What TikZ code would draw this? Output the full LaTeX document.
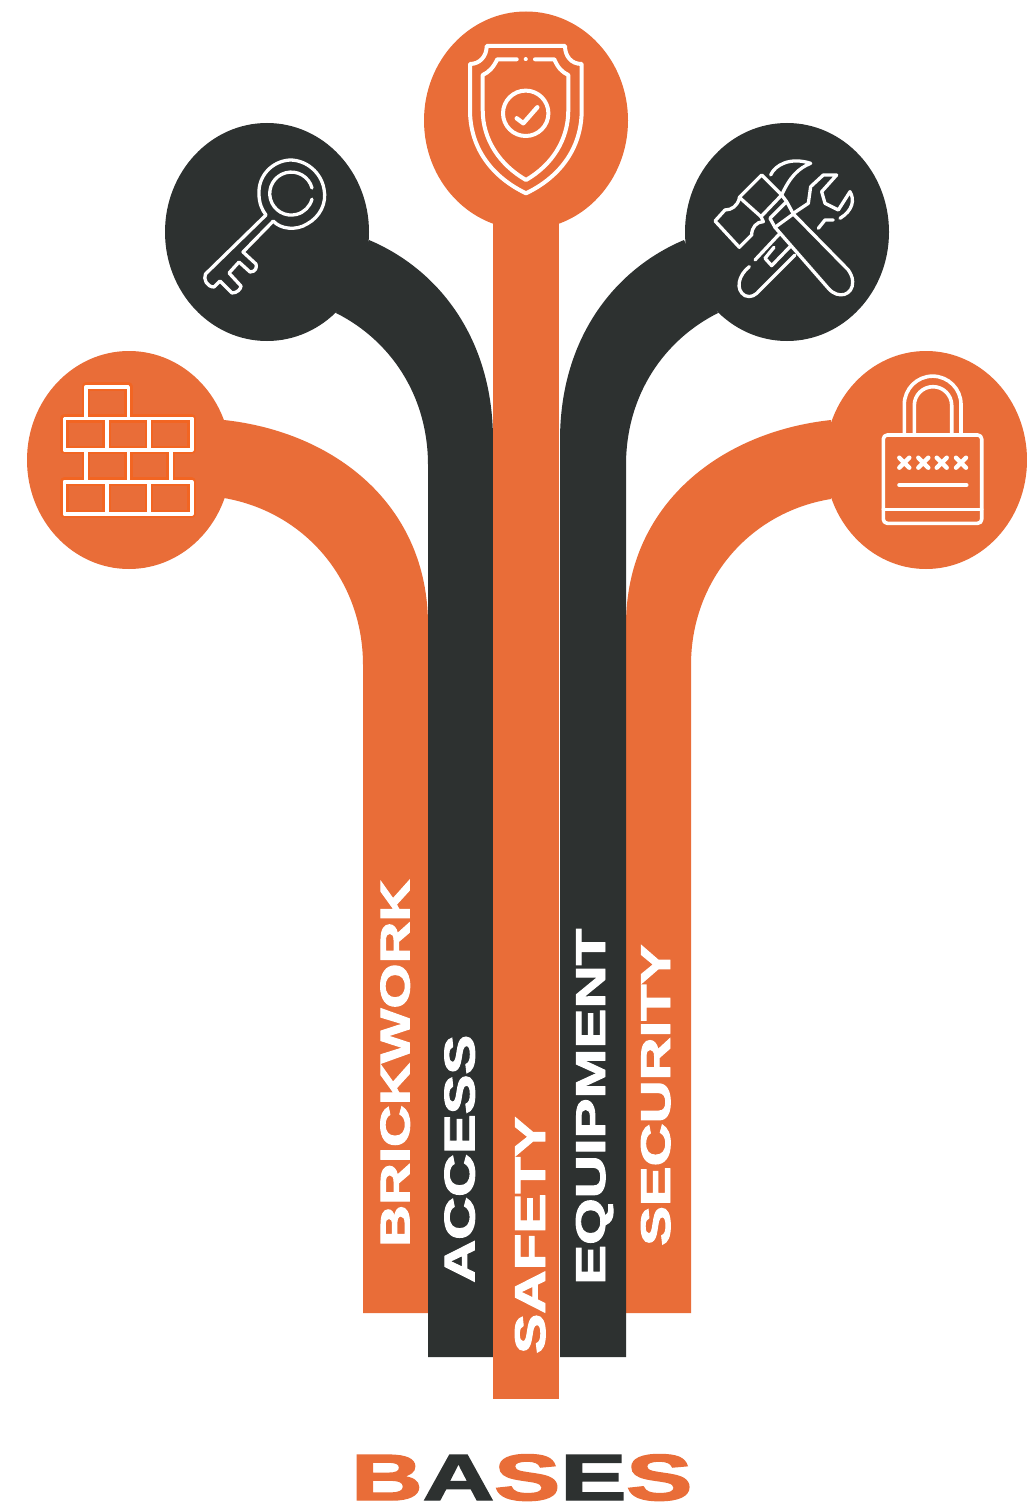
\documentclass[tikz,border=0pt]{standalone}
\usepackage{graphicx}
\usepackage{fontspec}
\setmainfont{Liberation Sans}[BoldFeatures={FakeBold=2.2}]
\usetikzlibrary{shapes.geometric}
\definecolor{brandorange}{HTML}{E96D38}
\definecolor{branddark}{HTML}{2D3130}
\definecolor{brickglow}{HTML}{F26522}
\newcommand{\fitlabel}[3]{\resizebox{#1pt}{#2pt}{\bfseries #3}}
\tikzset{
  disc/.style={ellipse,inner sep=0pt,minimum width=204pt,minimum height=218pt,draw=none},
  orangefill/.style={fill=brandorange,draw=none},
  darkfill/.style={fill=branddark,draw=none},
  icon/.style={draw=white,line width=3.3pt,line join=round,line cap=round,fill=none},
  stemlabel/.style={rotate=90,anchor=base west,inner sep=0pt,text=white},
}
\begin{document}
\begin{tikzpicture}[x=1pt,y=-1pt]
\useasboundingbox[fill=white] (0,0) rectangle (1027,1506);
% stems
\fill[orangefill] (224,420) .. controls (335,432) and (428,505) .. (428,625) -- (428,1313) -- (363,1313) -- (363,665) .. controls (363,580) and (305,512) .. (224,498) -- cycle;
\fill[orangefill] (831,420) .. controls (720,432) and (626,505) .. (626,625) -- (626,1313) -- (691,1313) -- (691,665) .. controls (691,580) and (750,512) .. (831,499) -- cycle;
\fill[darkfill] (369,240) .. controls (440,270) and (493,340) .. (493,440) -- (493,1357) -- (428,1357) -- (428,465) .. controls (428,395) and (390,340) .. (336,313) -- cycle;
\fill[darkfill] (684,240) .. controls (613,270) and (560,340) .. (560,440) -- (560,1357) -- (626,1357) -- (626,465) .. controls (626,395) and (664,340) .. (718,313) -- cycle;
\fill[orangefill] (493,215) rectangle (559,1399);
% discs
\node[disc,orangefill] (shielddisc) at (526,120.5) {};
\node[disc,darkfill] (keydisc) at (267,232) {};
\node[disc,darkfill] (tooldisc) at (787,232) {};
\node[disc,orangefill] (brickdisc) at (129,460) {};
\node[disc,orangefill,minimum width=202pt] (lockdisc) at (926,460) {};
% shield icon
\begin{scope}[icon,line width=4pt]
\draw (486.7,46) -- (565,46) .. controls (565,56) and (571,64) .. (581.7,64) -- (581.7,110) .. controls (581.7,150) and (558,178) .. (526,193.3) .. controls (494,178) and (470,150) .. (470,110) -- (470,64) .. controls (480,64) and (486.7,56) .. cycle;
\draw (516.7,59.3) -- (497.3,59.3) .. controls (493,68) and (489,72) .. (482.7,75) -- (482.7,110) .. controls (482.7,140) and (500,165) .. (526,180) .. controls (552,165) and (568.3,140) .. (568.3,110) -- (568.3,75) .. controls (562,72) and (558,68) .. (554.3,59.3) -- (535,59.3);
\draw (525.7,59.3) -- (525.8,59.3);
\draw (525.7,113.3) circle[radius=22.7];
\draw[line width=4.4pt] (516.7,118.3) -- (523.3,123.3) -- (537.3,107.3);
\end{scope}
% key icon
\begin{scope}[icon]
\draw (273.3,221) .. controls (280,229) and (296,231) .. (307,224) .. controls (320,217) and (327,203) .. (324,189) .. controls (321,172) and (306,160) .. (290,160) .. controls (272,161) and (258,176) .. (259,194) .. controls (259,203) and (262,210) .. (266,215)
 -- (205.5,274) .. controls (203,279) and (207,287) .. (214,287) -- (220,281) -- (232,293) .. controls (237,293) and (241,289) .. (241,286) -- (229,273) -- (239,262) -- (250,272) .. controls (256,272) and (257,267) .. (256,264) -- (243,252) -- cycle;
\draw (312,188) arc[start angle=-15,end angle=-345,radius=21.5];
\end{scope}
% tools icon, traced at three times its size
\begin{scope}[icon,shift={(680,120)},x=0.3333pt,y=-0.3333pt]
% hammer head
\draw (245,165) -- (305,225) -- (243,290) -- (178,232) -- cycle;
\draw (178,235) .. controls (172,258) and (155,270) .. (135,270) -- (105,303) -- (178,382) -- (215,345) .. controls (215,322) and (230,305) .. (250,305) -- (243,290);
% claw
\draw (272,165) .. controls (285,135) and (330,110) .. (392,130) .. controls (355,145) and (330,170) .. (305,225);
% collar between head and handle
\draw (270,295) -- (320,245) -- (305,225);
% hammer handle
\draw (270,295) -- (285,322) -- (445,505) .. controls (475,540) and (520,525) .. (518,485) .. controls (518,470) and (510,458) .. (505,450) -- (340,282) -- (320,245);
\draw (285,322) -- (340,282);
% wrench
\draw (340,280) -- (385,250) -- (392,200) -- (430,165) -- (470,165) -- (425,215) -- (435,250) -- (475,270) -- (510,215) .. controls (525,240) and (518,272) .. (480,295);
\draw (415,325) -- (435,300) -- (460,300);
\draw (225,420) -- (300,340);
\draw (208,440) .. controls (175,465) and (165,510) .. (195,527) .. controls (212,535) and (228,525) .. (240,510) -- (345,405);
\draw (282,382) -- (255,415) -- (275,437) -- (330,380);
\end{scope}
% brick icon
\foreach \colr/\wid in {brickglow/8.5,white/3.6}{
\draw[draw=\colr,line width=\wid pt,line join=round,fill=none]
 (86,416.7) -- (86,386.7) -- (128.3,386.7) -- (128.3,416.7)
 (64.3,418.3) rectangle (191.7,450)
 (106.7,418.3) -- (106.7,450) (149,418.3) -- (149,450)
 (86,450) -- (86,481.7) (128.3,450) -- (128.3,481.7) (170.7,450) -- (170.7,481.7)
 (64.3,481.7) rectangle (191.7,514)
 (106.7,481.7) -- (106.7,514) (149,481.7) -- (149,514);
}
% lock icon
\begin{scope}[icon,line width=3.6pt]
\draw[rounded corners=4pt] (883.3,435) rectangle (981.7,523.3);
\draw (883.3,509.3) -- (981.7,509.3);
\draw (904.3,435) -- (904.3,404.5) arc[start angle=180,end angle=360,radius=28.35] -- (961,435);
\draw (914.3,435) -- (914.3,405.4) arc[start angle=180,end angle=360,radius=18.7] -- (951.7,435);
\foreach \xpos in {904.3,923.3,941.7,961}{
 \draw[line width=4.4pt] (\xpos-5,457.7) -- (\xpos+5,467.7) (\xpos-5,467.7) -- (\xpos+5,457.7);
}
\draw (899,485) -- (966.7,485);
\end{scope}
% labels
\node[stemlabel] (lblbrick) at (409.5,1247) {\fitlabel{367}{29}{BRICKWORK}};
\node[stemlabel] (lblaccess) at (474.5,1283) {\fitlabel{248}{30}{ACCESS}};
\node[stemlabel] (lblsafety) at (545,1354) {\fitlabel{237}{30}{SAFETY}};
\node[stemlabel] (lblequip) at (605,1285) {\fitlabel{356}{29}{EQUIPMENT}};
\node[stemlabel] (lblsecur) at (670,1246) {\fitlabel{301}{29}{SECURITY}};
\node[anchor=base west,inner sep=0pt] (lblbases) at (351,1500) {\fitlabel{341}{45.5}{\textcolor{brandorange}{B}\textcolor{branddark}{A}\textcolor{brandorange}{S}\textcolor{branddark}{E}\textcolor{brandorange}{S}}};
\end{tikzpicture}
\end{document}
